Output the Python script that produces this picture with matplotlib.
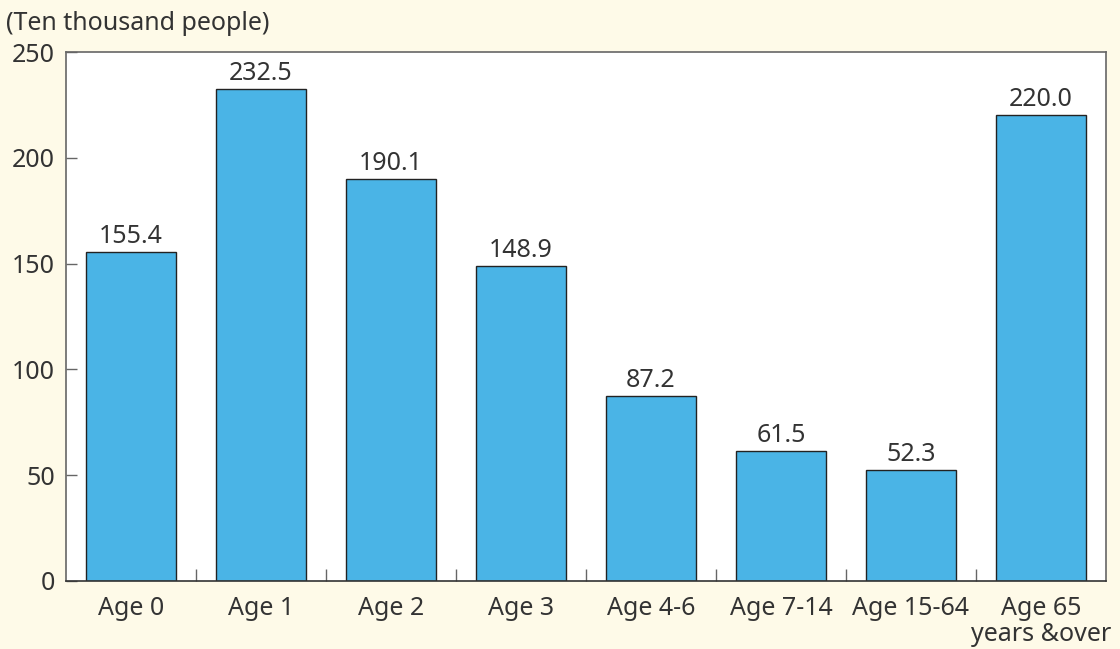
import matplotlib
matplotlib.use("Agg")
import matplotlib.pyplot as plt
import numpy as np

plt.rcParams['font.family'] = ['Noto Sans', 'DejaVu Sans']

categories = ['Age 0', 'Age 1', 'Age 2', 'Age 3', 'Age 4-6', 'Age 7-14', 'Age 15-64',
              'Age 65\nyears &over']
values = [155.4, 232.5, 190.1, 148.9, 87.2, 61.5, 52.3, 220.0]
yticks = [0, 50, 100, 150, 200, 250]

bg = '#FEFAE8'
bar_color = '#4AB4E6'
text_color = '#333333'
axis_color = '#666666'
fs = 18

fig = plt.figure(figsize=(11.2, 6.49), dpi=100, facecolor=bg)
ax = fig.add_axes([66 / 1120, 1 - 581 / 649, 1040 / 1120, 529 / 649])
ax.set_facecolor('white')

x = np.arange(len(categories))
ax.bar(x, values, width=0.69, color=bar_color, edgecolor='#222222', linewidth=1.0, zorder=2)

for xi, v in zip(x, values):
    ax.text(xi, v + 1.5, f'{v:.1f}', ha='center', va='bottom', fontsize=fs, color=text_color)

ax.set_xlim(-0.5, len(categories) - 0.5)
ax.set_ylim(0, 250)
ax.set_yticks(yticks)
ax.set_yticklabels([str(t) for t in yticks], fontsize=fs, color=text_color)

# category labels centered, ticks at the category borders
ax.set_xticks(x)
ax.set_xticklabels(categories, fontsize=fs, color=text_color, linespacing=1.05)
ax.tick_params(axis='x', which='major', length=0, pad=11)
ax.set_xticks(np.arange(0.5, len(categories) - 0.5, 1), minor=True)
ax.tick_params(axis='x', which='minor', direction='in', length=9, color=axis_color, width=1)
ax.tick_params(axis='y', direction='in', length=8, color=axis_color, width=1, pad=8)

for side in ['left', 'bottom', 'top', 'right']:
    ax.spines[side].set_color(axis_color)
    ax.spines[side].set_linewidth(1.2)
ax.spines['bottom'].set_color('#333333')

fig.text(6 / 1120, 1 - 24 / 649, '(Ten thousand people)', fontsize=fs, color=text_color,
         ha='left', va='center')

fig.savefig('out.png', dpi=100, facecolor=bg)
